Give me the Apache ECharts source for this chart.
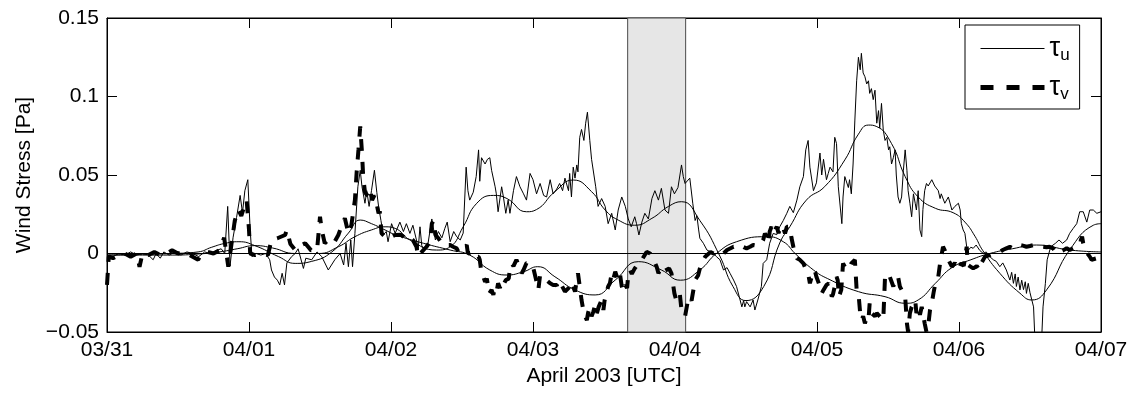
<!DOCTYPE html>
<html>
<head>
<meta charset="utf-8">
<script src="https://cdn.jsdelivr.net/npm/echarts@6/dist/echarts.min.js"></script>
<style>html,body{margin:0;padding:0;background:#fff;}#c{width:1134px;height:396px;}</style>
</head>
<body>
<div id="c"></div>
<script>
// x in hours since 03/31 00:00 UTC
const xTickLabels = ['03/31','04/01','04/02','04/03','04/04','04/05','04/06','04/07'];
const yTickLabels = ['\u22120.05','0','0.05','0.1','0.15'];
const shadeStart = 88.0;
const shadeEnd = 97.8;

const tauURaw = [[0,-0.001],[1,-0.002],[2,0.000],[3,-0.001],[4,0.001],[5,-0.001],[6,0.000],[7,-0.001],[7.8,-0.004],[8.3,0.000],[9,-0.003],[9.6,0.001],[10.5,-0.001],[11.5,0.001],[12.5,-0.001],[13.5,0.001],[14.5,0.000],[15.5,-0.002],[16.5,0.001],[17.5,0.000],[18.5,0.002],[19.3,0.003],[19.9,0.000],[20.4,0.030],[20.8,-0.008],[21.3,0.010],[21.9,0.023],[22.5,0.037],[22.9,0.026],[23.3,0.040],[23.8,0.047],[24.2,0.015],[24.5,-0.002],[25.2,0.000],[26,-0.001],[26.8,0.000],[27.5,-0.004],[27.8,-0.0105],[28.3,-0.015],[28.8,-0.017],[29.2,-0.020],[29.6,-0.0126],[30,-0.020],[30.4,-0.006],[31.2,-0.002],[31.8,0.000],[32.3,0.003],[33.2,-0.0095],[33.6,-0.003],[34.6,-0.004],[35.5,0.001],[36.3,-0.002],[37.4,-0.0105],[38.5,-0.004],[39.4,0.000],[40,-0.0073],[40.4,0.0065],[40.8,-0.0084],[41.2,0.0086],[41.5,-0.0084],[41.9,0.0128],[42.4,0.0425],[42.8,0.053],[43.1,0.0425],[43.6,0.032],[43.9,0.040],[44.3,0.030],[44.7,0.040],[45.2,0.053],[45.6,0.039],[45.9,0.030],[46.3,0.021],[46.7,0.0118],[47.2,0.014],[47.5,0.0075],[48.1,0.019],[48.7,0.0128],[49.5,0.020],[50.1,0.014],[50.6,0.019],[51.2,0.0128],[51.7,0.018],[52.3,0.0086],[52.6,0.003],[52.9,0.017],[53.2,0.005],[53.5,0.003],[54.2,0.005],[54.9,0.022],[55.5,0.0086],[56,0.014],[56.6,0.010],[57.1,0.016],[57.5,0.020],[58,0.0075],[58.6,0.014],[59.1,0.0107],[59.7,0.0086],[60.2,0.013],[60.7,0.055],[61,0.040],[61.3,0.034],[61.9,0.039],[62.4,0.049],[62.8,0.066],[63,0.046],[63.3,0.061],[63.9,0.057],[64.3,0.060],[64.7,0.061],[65,0.053],[65.6,0.0425],[65.8,0.038],[66.1,0.0266],[66.7,0.0425],[67,0.036],[67.4,0.0256],[67.8,0.034],[68.1,0.0256],[68.7,0.040],[69.2,0.049],[69.8,0.0425],[70.4,0.038],[70.9,0.034],[71.5,0.051],[72,0.047],[72.6,0.038],[73.2,0.0446],[73.8,0.037],[74.3,0.036],[74.9,0.047],[75.4,0.038],[76,0.041],[76.5,0.0446],[77,0.040],[77.4,0.048],[78,0.040],[78.2,0.051],[78.5,0.036],[78.8,0.055],[79.1,0.048],[79.4,0.0564],[79.6,0.052],[79.9,0.074],[80.2,0.079],[80.6,0.072],[80.9,0.083],[81.2,0.090],[81.6,0.072],[81.9,0.060],[82.2,0.061],[82.6,0.0425],[83,0.030],[83.6,0.035],[84.2,0.030],[84.7,0.019],[85.3,0.0256],[85.9,0.015],[86.4,0.0277],[87,0.036],[87.6,0.030],[88.1,0.022],[88.6,0.017],[89.2,0.0234],[89.5,0.019],[89.9,0.0118],[90.4,0.020],[90.9,0.0256],[91.5,0.022],[92.1,0.035],[92.6,0.040],[93.2,0.034],[93.7,0.0415],[94.3,0.0277],[94.9,0.0256],[95.4,0.0425],[95.9,0.038],[96.5,0.042],[97.1,0.0564],[97.4,0.049],[97.7,0.0446],[98.5,0.048],[99,0.032],[99.4,0.021],[99.7,0.024],[100,0.015],[100.2,0.0097],[100.8,0.0065],[101.4,0.0022],[102,0.001],[102.5,0.000],[103,-0.002],[103.6,-0.004],[104.2,-0.0105],[104.8,-0.009],[105.3,-0.0126],[105.9,-0.0169],[106.4,-0.021],[107,-0.0296],[107.3,-0.034],[107.6,-0.030],[107.8,-0.034],[108.1,-0.0307],[108.7,-0.034],[109.2,-0.0296],[109.5,-0.036],[110,-0.0296],[110.6,-0.021],[110.9,-0.0063],[111.5,-0.004],[112,0.0065],[112.6,0.0128],[113.2,0.012],[113.7,0.017],[114.3,0.021],[114.9,0.0256],[115.4,0.030],[116,0.026],[116.6,0.034],[117.1,0.0425],[117.7,0.049],[118.1,0.066],[118.5,0.072],[118.8,0.055],[119.4,0.040],[119.9,0.045],[120.5,0.064],[120.8,0.050],[121.1,0.060],[121.6,0.047],[121.9,0.051],[122.2,0.055],[122.7,0.052],[123,0.074],[123.3,0.070],[123.6,0.0425],[124.2,0.019],[124.4,0.036],[124.7,0.049],[125.3,0.042],[125.5,0.047],[125.8,0.038],[126.1,0.057],[126.4,0.085],[126.7,0.110],[127,0.125],[127.3,0.117],[127.5,0.1275],[127.8,0.115],[128.1,0.1126],[128.4,0.108],[128.7,0.110],[128.9,0.102],[129.2,0.105],[129.5,0.098],[129.8,0.104],[130.1,0.083],[130.4,0.091],[130.6,0.080],[130.9,0.0956],[131.2,0.0786],[131.5,0.072],[131.8,0.074],[132.1,0.066],[132.3,0.068],[132.6,0.057],[132.9,0.061],[133.2,0.066],[133.4,0.050],[133.7,0.036],[134,0.032],[134.3,0.036],[134.6,0.053],[134.9,0.066],[135.2,0.053],[135.4,0.040],[135.7,0.032],[136,0.0234],[136.3,0.038],[136.6,0.032],[136.8,0.0277],[137.1,0.040],[137.4,0.015],[137.7,0.0107],[137.9,0.028],[138.2,0.040],[138.5,0.0446],[138.8,0.043],[139.4,0.047],[139.9,0.043],[140.5,0.040],[140.8,0.035],[141,0.038],[141.6,0.032],[142.2,0.036],[142.8,0.0277],[143.3,0.030],[143.9,0.032],[144.2,0.0277],[144.4,0.019],[144.7,0.015],[145,0.0128],[145.3,0.0043],[145.6,0.0022],[146,0.004],[146.4,0.0033],[146.9,0.0054],[147.5,0.002],[148.1,0.000],[148.6,0.001],[149.2,-0.002],[149.8,-0.004],[150.3,-0.005],[150.9,-0.0084],[151.4,-0.006],[152,-0.0105],[152.6,-0.0169],[152.9,-0.012],[153.2,-0.019],[153.5,-0.013],[153.7,-0.021],[154,-0.015],[154.3,-0.0232],[154.6,-0.017],[154.9,-0.023],[155.2,-0.018],[155.4,-0.0254],[155.7,-0.019],[156,-0.025],[156.6,-0.034],[157,-0.070],[157.8,-0.070],[158.2,-0.034],[158.6,-0.019],[158.9,-0.004],[159.5,0.0043],[160.3,0.0065],[160.9,0.0086],[161.5,0.0065],[162.2,0.0086],[162.7,0.0128],[163.3,0.016],[163.9,0.019],[164.4,0.0266],[165,0.0266],[165.6,0.020],[166.1,0.0277],[166.7,0.0277],[167.3,0.0256],[168,0.0266]];

const tauVRaw = [[0,-0.020],[0.3,-0.002],[1,-0.003],[2,-0.001],[3,0.000],[4,-0.002],[5,0.000],[5.5,-0.0084],[6,0.000],[7,-0.001],[8,0.001],[9,-0.001],[10,0.000],[11,0.002],[12,0.000],[13,0.001],[14,-0.001],[15.4,-0.004],[16,0.000],[17,0.001],[18,0.000],[19,0.002],[19.8,0.010],[20.5,-0.0084],[21,0.005],[21.6,0.021],[22.2,0.028],[22.7,0.024],[23.2,0.030],[23.6,0.034],[24,0.015],[24.2,0.000],[25,-0.001],[26,0.000],[27.2,-0.001],[27.8,0.0086],[28.8,0.0097],[30.1,0.0118],[30.4,0.015],[31,0.006],[31.8,0.0022],[32.3,0.0043],[33.5,0.0065],[34.5,0.002],[35.5,0.002],[36,0.0234],[36.3,0.015],[36.8,0.0065],[37.5,0.009],[38.4,0.007],[39.1,0.0118],[39.6,0.017],[40.2,0.0224],[40.8,0.0128],[41.3,0.018],[41.9,0.034],[42.2,0.052],[42.5,0.066],[42.8,0.081],[43.1,0.064],[43.3,0.049],[43.6,0.039],[44.2,0.036],[44.5,0.040],[44.8,0.034],[45.2,0.037],[45.6,0.031],[45.9,0.0256],[46.1,0.027],[46.4,0.0128],[47,0.0107],[47.5,0.012],[48.1,0.0107],[48.7,0.0118],[49,0.0128],[49.6,0.012],[50.1,0.0107],[50.6,0.0086],[51.2,0.010],[51.7,0.0086],[52.3,0.0043],[52.6,-0.002],[52.9,-0.003],[53.2,0.001],[54,0.0043],[54.6,0.0075],[54.9,0.019],[55.2,0.021],[55.5,0.012],[56,0.0097],[56.8,0.0054],[58,0.0054],[58.5,0.0043],[59.1,0.0033],[59.4,0.001],[60.2,0.0022],[60.8,0.0054],[61,0.000],[61.3,-0.001],[61.9,0.001],[62.2,-0.002],[62.8,-0.002],[63,-0.004],[63.3,-0.0126],[63.6,-0.0148],[63.9,-0.018],[64.2,-0.016],[64.6,-0.0255],[65,-0.0232],[65.3,-0.0264],[65.6,-0.021],[65.9,-0.0232],[66.1,-0.019],[66.4,-0.022],[66.7,-0.018],[67,-0.020],[67.4,-0.0169],[67.9,-0.016],[68.1,-0.0095],[68.4,-0.0063],[68.7,-0.008],[69.2,-0.004],[69.5,-0.003],[70.1,-0.0126],[70.4,-0.0105],[70.9,-0.006],[71.5,-0.006],[72,-0.0084],[72.6,-0.018],[72.9,-0.0232],[73.2,-0.0137],[73.8,-0.0158],[74.3,-0.017],[74.9,-0.019],[75.4,-0.020],[76,-0.020],[76.3,-0.0232],[76.8,-0.020],[77.4,-0.0243],[78,-0.022],[78.5,-0.018],[79.1,-0.0243],[79.4,-0.0169],[79.6,-0.0126],[79.9,-0.021],[80.2,-0.0296],[80.5,-0.036],[80.8,-0.040],[81.1,-0.0424],[81.3,-0.038],[81.6,-0.034],[81.9,-0.040],[82.2,-0.037],[82.5,-0.0328],[82.8,-0.038],[83.1,-0.034],[83.6,-0.0296],[83.9,-0.036],[84.1,-0.030],[84.4,-0.0254],[84.7,-0.021],[85,-0.019],[85.3,-0.0126],[85.6,-0.016],[85.9,-0.0116],[86.2,-0.015],[86.4,-0.0169],[86.7,-0.013],[87,-0.021],[87.3,-0.0243],[87.6,-0.020],[87.9,-0.022],[88.1,-0.0137],[88.4,-0.0105],[88.7,-0.013],[89.2,-0.0095],[89.8,-0.0063],[90.1,-0.0052],[90.4,-0.004],[91.2,0.001],[91.5,0.0022],[91.8,0.000],[92.1,-0.002],[92.4,-0.004],[92.9,-0.0084],[93.2,-0.0126],[93.4,-0.011],[93.7,-0.0084],[94.3,-0.011],[95,-0.0095],[95.4,-0.0126],[95.9,-0.0254],[96.2,-0.0296],[96.5,-0.028],[96.8,-0.0254],[97.1,-0.036],[97.4,-0.038],[97.7,-0.040],[98.2,-0.0296],[98.5,-0.0275],[98.8,-0.030],[99.1,-0.029],[99.4,-0.0169],[99.7,-0.0169],[99.9,-0.014],[100.2,-0.0095],[100.5,-0.0063],[100.8,-0.004],[101.1,-0.002],[102,0.001],[102.5,0.000],[103,0.001],[103.6,0.001],[104.2,0.000],[104.8,0.0022],[105.9,0.0043],[106.4,0.0043],[107,0.0054],[107.6,0.004],[108.1,0.0033],[108.7,0.0043],[109.2,0.0054],[109.8,0.005],[110.4,0.0054],[110.9,0.0086],[111.2,0.0128],[111.5,0.0107],[111.8,0.0065],[112,0.0139],[112.3,0.017],[112.6,0.0128],[112.9,0.015],[113.2,0.017],[113.5,0.013],[113.7,0.0139],[114,0.018],[114.3,0.016],[114.6,0.0128],[114.9,0.017],[115.2,0.018],[115.4,0.017],[115.7,0.0097],[116,0.0043],[116.3,0.000],[116.6,-0.003],[117.1,-0.004],[117.7,-0.0063],[118,-0.009],[118.5,-0.0126],[118.8,-0.019],[119.4,-0.0105],[119.7,-0.012],[119.9,-0.0148],[120.5,-0.021],[120.8,-0.0254],[121.1,-0.0232],[121.6,-0.020],[122,-0.019],[122.5,-0.0275],[122.7,-0.026],[123,-0.021],[123.3,-0.0148],[123.5,-0.017],[123.7,-0.0275],[124.1,-0.0232],[124.4,-0.0063],[124.7,-0.0084],[125.3,-0.0105],[125.8,-0.0063],[126.4,-0.004],[126.7,-0.0232],[127,-0.025],[127.3,-0.038],[127.5,-0.0424],[127.8,-0.040],[128.1,-0.0445],[128.4,-0.041],[128.7,-0.0424],[128.9,-0.0317],[129.2,-0.038],[129.8,-0.040],[130.1,-0.038],[130.6,-0.040],[131.2,-0.0424],[131.5,-0.0148],[131.8,-0.017],[132.3,-0.0148],[132.9,-0.021],[133.2,-0.016],[133.7,-0.0148],[134,-0.021],[134.3,-0.020],[134.9,-0.0275],[135.2,-0.0445],[135.4,-0.050],[135.7,-0.038],[136,-0.034],[136.6,-0.0296],[136.8,-0.038],[137.1,-0.034],[137.4,-0.039],[137.7,-0.034],[138.2,-0.0445],[138.5,-0.050],[138.8,-0.046],[139.1,-0.036],[139.4,-0.0317],[139.7,-0.025],[140,-0.019],[140.5,-0.0148],[140.8,-0.0063],[141,-0.002],[141.3,0.0043],[141.6,0.002],[142.2,-0.004],[142.8,-0.0084],[143.3,-0.006],[143.9,-0.0105],[144.4,-0.006],[144.8,-0.008],[145.3,0.0043],[145.5,-0.0073],[146.4,-0.0095],[147,-0.008],[147.5,-0.0105],[147.8,-0.006],[148.4,-0.002],[149.2,-0.001],[149.8,0.000],[150.9,0.001],[151.4,0.0022],[152,0.0033],[152.6,0.0043],[153.2,0.003],[153.7,0.0043],[154.3,0.0054],[154.8,0.005],[155.4,0.0043],[156,0.0048],[156.6,0.0054],[157.1,0.0043],[157.7,0.004],[158.2,0.0043],[158.8,0.004],[159.3,0.0043],[159.9,0.0033],[160.5,0.000],[161,0.001],[161.6,0.002],[162.2,0.0033],[162.7,0.0022],[163.3,0.0033],[163.8,0.0043],[164.4,0.0054],[164.6,0.0086],[164.8,0.0107],[165,0.0065],[165.5,0.001],[166.1,-0.002],[166.4,-0.004],[166.7,-0.003],[167.3,-0.003],[168,-0.002]];

const tauUFilt = [[0,-0.001],[6,-0.001],[11,-0.001],[16.6,0.000],[19,0.001],[22,0.003],[25,0.005],[28,0.0035],[31.8,0.000],[35.7,0.000],[39.1,0.0043],[41.9,0.0107],[44.7,0.015],[47,0.017],[48.7,0.016],[51.2,0.0086],[55.7,0.0022],[58,0.0043],[60.2,0.017],[62.5,0.032],[65.3,0.037],[67.6,0.035],[70.9,0.0266],[72.6,0.028],[75.7,0.0394],[78.8,0.0468],[81.9,0.0394],[84.2,0.0277],[86.4,0.0213],[89.2,0.018],[92.1,0.0224],[94.9,0.030],[97.1,0.033],[100.2,0.021],[103.5,-0.001],[105.8,-0.021],[108,-0.030],[111,-0.021],[113.7,0.0067],[115.4,0.017],[118.2,0.034],[121.3,0.0426],[124.7,0.0596],[127,0.076],[128.7,0.0818],[130,0.081],[132.6,0.070],[134.9,0.049],[137.1,0.036],[140,0.0288],[143,0.026],[145,0.020],[146.7,0.011],[148,0.002],[150.9,-0.0126],[154.3,-0.0253],[156.3,-0.0296],[158.8,-0.0232],[162.7,0.0022],[166.7,0.018],[168,0.019]];

const tauVFilt = [[0,-0.001],[6,-0.0005],[11,0.000],[15.4,0.001],[17.7,0.004],[20,0.0065],[22.3,0.0075],[25,0.005],[29,-0.002],[31.8,-0.0063],[34.6,-0.005],[38,0.001],[40.8,0.013],[42.8,0.0213],[44.7,0.019],[47,0.015],[48.7,0.012],[53.5,0.0065],[58,0.0022],[61.3,-0.001],[64.7,-0.0105],[67.6,-0.0137],[70.4,-0.0116],[72.8,-0.0084],[75.7,-0.0148],[79.1,-0.0232],[82.5,-0.0264],[85.9,-0.0169],[89.8,-0.0052],[93.7,-0.0105],[96.9,-0.017],[100.2,-0.0105],[103,0.000],[106.4,0.0075],[111.5,0.0107],[114.3,0.0075],[116.3,0.000],[119.4,-0.0105],[121.8,-0.016],[127,-0.0243],[131.5,-0.0275],[134.9,-0.0317],[137.1,-0.0296],[140,-0.019],[142.8,-0.009],[146,-0.004],[149.2,0.000],[153,0.003],[157.1,0.0054],[162.7,0.0022],[168,0.001]];

const FONT = 'Liberation Sans, Arial, Helvetica, sans-serif';
const FS = 21;
const chart = echarts.init(document.getElementById('c'), null, {renderer: 'canvas'});

const xCommon = {
  type: 'value', min: 0, max: 168, interval: 24,
  axisLine: {show: true, onZero: false, lineStyle: {color: '#000', width: 1}},
  axisTick: {show: true, inside: true, length: 10, lineStyle: {color: '#000', width: 1}},
  splitLine: {show: false}
};
const yCommon = {
  type: 'value', min: -0.05, max: 0.15, interval: 0.05,
  axisLine: {show: true, onZero: false, lineStyle: {color: '#000', width: 1}},
  axisTick: {show: true, inside: true, length: 10, lineStyle: {color: '#000', width: 1}},
  splitLine: {show: false}
};

chart.setOption({
  animation: false,
  backgroundColor: '#fff',
  grid: {left: 107, top: 18, right: 33, bottom: 64, show: true, borderColor: '#000', borderWidth: 1, backgroundColor: 'transparent', containLabel: false, outerBoundsMode: 'none'},
  legend: {
    left: 965, top: 25, orient: 'vertical',
    data: [
      {name: 'tu', lineStyle: {width: 1, type: 'solid', color: '#000'}},
      {name: 'tv', lineStyle: {width: 5, type: [13, 13], color: '#000', cap: 'butt'}}
    ],
    itemWidth: 64, itemHeight: 26, itemGap: 8,
    padding: [8, 10, 6, 13],
    backgroundColor: '#fff',
    borderColor: '#000', borderWidth: 1, borderRadius: 0,
    selectedMode: false,
    itemStyle: {opacity: 0, borderWidth: 0},
    formatter: function (name) { return '{t|\u03c4}{s|' + name.slice(1) + '}'; },
    textStyle: {
      color: '#000', fontFamily: FONT,
      rich: {
        t: {fontSize: 27, fontFamily: FONT, color: '#000', lineHeight: 28},
        s: {fontSize: 17, fontFamily: FONT, color: '#000', lineHeight: 28, padding: [14, 0, 0, 0]}
      }
    }
  },
  xAxis: [
    Object.assign({}, xCommon, {
      position: 'bottom',
      name: 'April 2003 [UTC]', nameLocation: 'middle', nameGap: 31,
      nameTextStyle: {color: '#000', fontSize: FS, fontFamily: FONT},
      axisLabel: {show: true, margin: 8, color: '#000', fontSize: FS, fontFamily: FONT, showMinLabel: true, showMaxLabel: true,
        formatter: function (v) { return xTickLabels[Math.round(v / 24)]; }}
    }),
    Object.assign({}, xCommon, {position: 'top', axisLabel: {show: false}})
  ],
  yAxis: [
    Object.assign({}, yCommon, {
      position: 'left',
      name: 'Wind Stress [Pa]', nameLocation: 'middle', nameGap: 72, nameRotate: 90,
      nameTextStyle: {color: '#000', fontSize: FS, fontFamily: FONT},
      axisLabel: {show: true, margin: 8, color: '#000', fontSize: FS, fontFamily: FONT, showMinLabel: true, showMaxLabel: true,
        formatter: function (v) { return yTickLabels[Math.round((v + 0.05) / 0.05)]; }}
    }),
    Object.assign({}, yCommon, {position: 'right', axisLabel: {show: false}})
  ],
  series: [
    {
      type: 'line', name: 'shade', data: [], z: 1, silent: true,
      markArea: {
        silent: true,
        itemStyle: {color: '#e6e6e6', borderColor: '#4a4a4a', borderWidth: 1},
        data: [[{xAxis: shadeStart}, {xAxis: shadeEnd}]]
      },
      markLine: {
        silent: true, symbol: ['none', 'none'], label: {show: false},
        lineStyle: {color: '#000', width: 1, type: 'solid'},
        data: [{yAxis: 0}]
      }
    },
    {
      type: 'line', name: 'tu', data: tauURaw, z: 3,
      showSymbol: false, symbol: 'none', clip: true,
      lineStyle: {color: '#000', width: 1, type: 'solid'}, itemStyle: {color: '#000'}
    },
    {
      type: 'line', name: 'tv', data: tauVRaw, z: 4,
      showSymbol: false, symbol: 'none', clip: true,
      lineStyle: {color: '#000', width: 4, type: [12, 11], cap: 'butt'}, itemStyle: {color: '#000'}
    },
    {
      type: 'line', name: 'tuFilt', data: tauUFilt, z: 5, smooth: 0.5,
      showSymbol: false, symbol: 'none', clip: true,
      lineStyle: {color: '#000', width: 1}
    },
    {
      type: 'line', name: 'tvFilt', data: tauVFilt, z: 5, smooth: 0.5,
      showSymbol: false, symbol: 'none', clip: true,
      lineStyle: {color: '#000', width: 1}
    }
  ]
});
</script>
</body>
</html>
